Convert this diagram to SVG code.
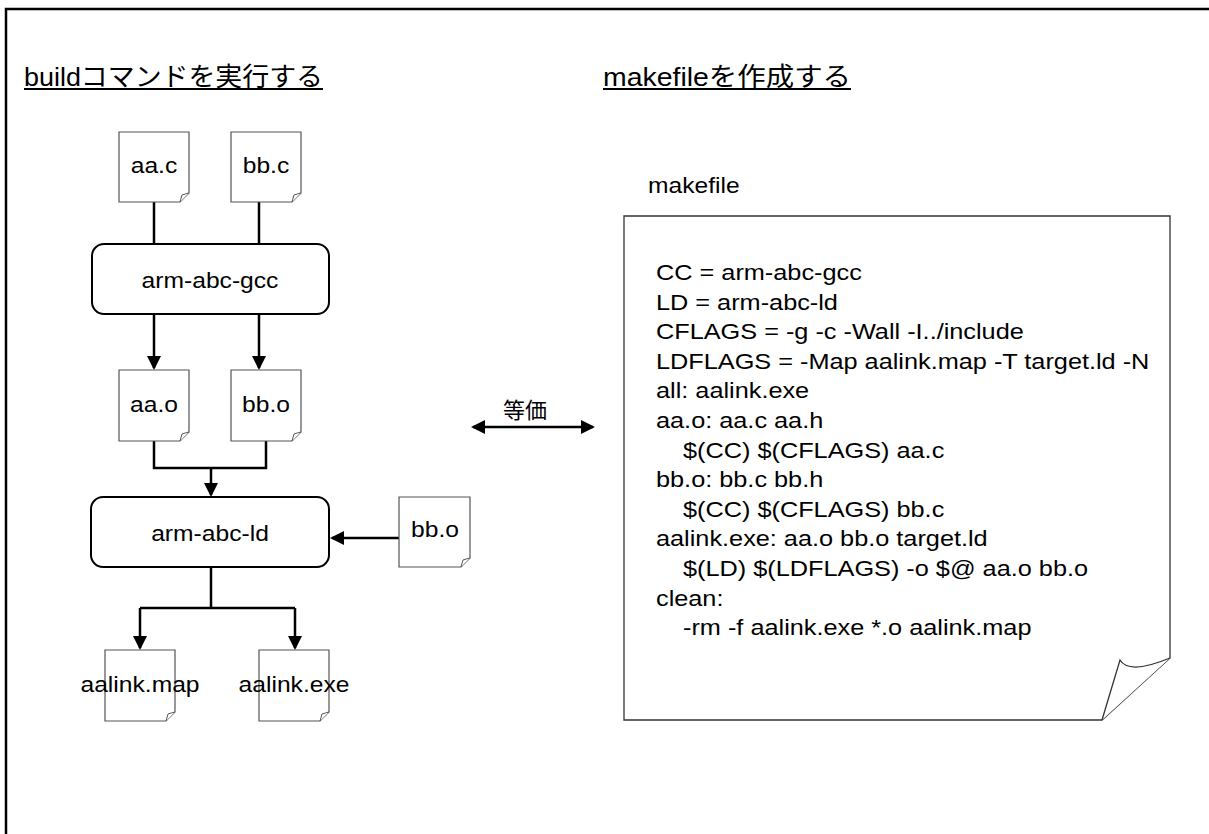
<svg xmlns="http://www.w3.org/2000/svg" width="1209" height="834" viewBox="0 0 1209 834">
  <style>
    .frame { fill: none; stroke: #000; stroke-width: 2.5; }
    .doc { fill: #fff; stroke: #555; stroke-width: 1.2; }
    .curl { fill: #fff; stroke: #555; stroke-width: 1; }
    .box { fill: #fff; stroke: #000; stroke-width: 2; }
    .conn { fill: none; stroke: #000; stroke-width: 2.5; }
    .sheet { fill: #fff; stroke: #333; stroke-width: 1.3; }
    .t { font-family: "Liberation Sans", Arial, "Noto Sans CJK JP", sans-serif; font-size: 22px; fill: #000; }
    .c { text-anchor: middle; }
    .h { font-family: "Liberation Sans", Arial, "Noto Sans CJK JP", sans-serif; font-size: 26px; fill: #000; }
    .ul { stroke: #000; stroke-width: 2; }
  </style>
  <defs>
    <marker id="arrow" viewBox="0 0 14 14" refX="12" refY="7" markerWidth="14" markerHeight="14" markerUnits="userSpaceOnUse" orient="auto-start-reverse">
      <path d="M0,0 L14,7 L0,14 Z" fill="#000"/>
    </marker>
  </defs>

  <rect width="1209" height="834" fill="#fff"/>
  <path class="frame" d="M6,834 V9 H1209"/>

  <!-- section headings -->
  <g id="heading-build">
    <text class="h" x="24" y="86" textLength="299" lengthAdjust="spacingAndGlyphs">buildコマンドを実行する</text>
    <line class="ul" x1="24" y1="89" x2="323" y2="89"/>
  </g>
  <g id="heading-makefile">
    <text class="h" x="603" y="86" textLength="248" lengthAdjust="spacingAndGlyphs">makefileを作成する</text>
    <line class="ul" x1="603" y1="89" x2="851" y2="89"/>
  </g>

  <!-- connectors -->
  <g id="connectors">
    <path class="conn" d="M154,202 V244"/>
    <path class="conn" d="M259,202 V244"/>
    <path class="conn" d="M154,314 V368" marker-end="url(#arrow)"/>
    <path class="conn" d="M259,314 V368" marker-end="url(#arrow)"/>
    <path class="conn" d="M154,441 V468 H266 V441"/>
    <path class="conn" d="M211,468 V495" marker-end="url(#arrow)"/>
    <path class="conn" d="M399,538 H332" marker-end="url(#arrow)"/>
    <path class="conn" d="M211,567 V608"/>
    <path class="conn" d="M140,608 H295"/>
    <path class="conn" d="M140,608 V648" marker-end="url(#arrow)"/>
    <path class="conn" d="M295,608 V648" marker-end="url(#arrow)"/>
    <path class="conn" d="M473,427 H593" marker-start="url(#arrow)" marker-end="url(#arrow)"/>
  </g>

  <!-- source files -->
  <g id="doc-aa-c">
    <path class="doc" d="M119,132 H189 V193 L180,202 H119 Z"/>
    <path class="curl" d="M180,202 L182,195 Q185,194 189,193"/>
    <text class="t c" transform="translate(154 173) scale(1.12 1)">aa.c</text>
  </g>
  <g id="doc-bb-c">
    <path class="doc" d="M231,132 H301 V193 L292,202 H231 Z"/>
    <path class="curl" d="M292,202 L294,195 Q297,194 301,193"/>
    <text class="t c" transform="translate(266 173) scale(1.12 1)">bb.c</text>
  </g>

  <!-- compiler -->
  <g id="node-gcc">
    <rect class="box" x="92" y="244" width="237" height="70" rx="12"/>
    <text class="t c" transform="translate(210 288) scale(1.12 1)">arm-abc-gcc</text>
  </g>

  <!-- object files -->
  <g id="doc-aa-o">
    <path class="doc" d="M119,370 H189 V432 L180,441 H119 Z"/>
    <path class="curl" d="M180,441 L182,434 Q185,433 189,432"/>
    <text class="t c" transform="translate(154 412) scale(1.12 1)">aa.o</text>
  </g>
  <g id="doc-bb-o">
    <path class="doc" d="M231,370 H301 V432 L292,441 H231 Z"/>
    <path class="curl" d="M292,441 L294,434 Q297,433 301,432"/>
    <text class="t c" transform="translate(266 412) scale(1.12 1)">bb.o</text>
  </g>

  <!-- linker -->
  <g id="node-ld">
    <rect class="box" x="91" y="497" width="238" height="70" rx="12"/>
    <text class="t c" transform="translate(210 541) scale(1.12 1)">arm-abc-ld</text>
  </g>
  <g id="doc-bb-o-extra">
    <path class="doc" d="M399,497 H470 V558 L461,567 H399 Z"/>
    <path class="curl" d="M461,567 L463,560 Q466,559 470,558"/>
    <text class="t c" transform="translate(435 537) scale(1.12 1)">bb.o</text>
  </g>

  <!-- link outputs -->
  <g id="doc-aalink-map">
    <path class="doc" d="M105,650 H175 V712 L166,721 H105 Z"/>
    <path class="curl" d="M166,721 L168,714 Q171,713 175,712"/>
    <text class="t c" transform="translate(140 692) scale(1.12 1)">aalink.map</text>
  </g>
  <g id="doc-aalink-exe">
    <path class="doc" d="M259,650 H329 V712 L320,721 H259 Z"/>
    <path class="curl" d="M320,721 L322,714 Q325,713 329,712"/>
    <text class="t c" transform="translate(294 692) scale(1.12 1)">aalink.exe</text>
  </g>

  <!-- equivalence label -->
  <g id="label-equiv">
    <text class="t c" x="525" y="418">等価</text>
  </g>

  <!-- makefile sheet -->
  <g id="doc-makefile">
    <text class="t" transform="translate(648 193) scale(1.12 1)">makefile</text>
    <path class="sheet" d="M624,216 H1170 V658 L1102,720 H624 Z"/>
    <path class="sheet" d="M1102,720 L1120,660 Q1129,675 1170,658"/>
    <text class="t" transform="translate(656 280) scale(1.15 1)">
      <tspan x="0" y="0">CC = arm-abc-gcc</tspan>
      <tspan x="0" y="29.6">LD = arm-abc-ld</tspan>
      <tspan x="0" y="59.2">CFLAGS = -g -c -Wall -I../include</tspan>
      <tspan x="0" y="88.8">LDFLAGS = -Map aalink.map -T target.ld -N</tspan>
      <tspan x="0" y="118.4">all: aalink.exe</tspan>
      <tspan x="0" y="148">aa.o: aa.c aa.h</tspan>
      <tspan x="23.5" y="177.6">$(CC) $(CFLAGS) aa.c</tspan>
      <tspan x="0" y="207.2">bb.o: bb.c bb.h</tspan>
      <tspan x="23.5" y="236.8">$(CC) $(CFLAGS) bb.c</tspan>
      <tspan x="0" y="266.4">aalink.exe: aa.o bb.o target.ld</tspan>
      <tspan x="23.5" y="296">$(LD) $(LDFLAGS) -o $@ aa.o bb.o</tspan>
      <tspan x="0" y="325.6">clean:</tspan>
      <tspan x="23.5" y="355.2">-rm -f aalink.exe *.o aalink.map</tspan>
    </text>
  </g>
</svg>
